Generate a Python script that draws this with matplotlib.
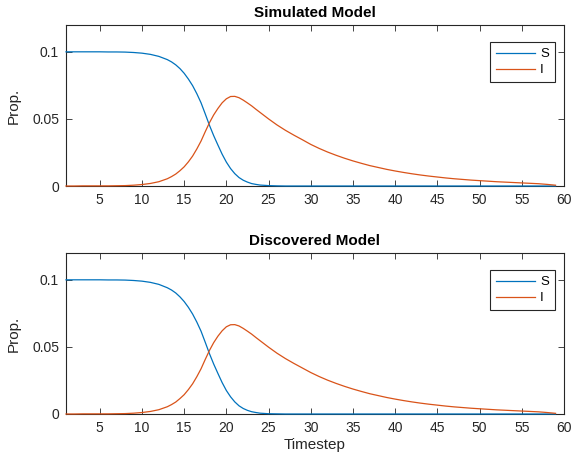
import matplotlib
matplotlib.use("Agg")
import matplotlib.pyplot as plt

timesteps = [1, 2, 3, 4, 5, 6, 7, 8, 9, 10, 11, 12, 13, 13.5, 14, 14.5, 15, 15.5, 16, 16.5,
             17, 17.5, 18, 18.5, 19, 19.5, 20, 20.5, 21, 21.5, 22, 22.5, 23, 23.5, 24,
             25, 26, 27, 28, 29, 30, 31, 32, 33, 34, 35, 36, 37, 38, 39, 40, 41, 42, 43,
             44, 45, 46, 47, 48, 49, 50, 51, 52, 53, 54, 55, 56, 57, 58, 59]

sim_S = [0.1000, 0.1000, 0.1000, 0.1000, 0.1000, 0.0999, 0.0999, 0.0998, 0.0995, 0.0990,
         0.0981, 0.0966, 0.0942, 0.0925, 0.0903, 0.0875, 0.0840, 0.0797, 0.0748, 0.0688,
         0.0620, 0.0537, 0.0452, 0.0375, 0.0305, 0.0237, 0.0178, 0.0130, 0.0092, 0.0063,
         0.0043, 0.0029, 0.0018, 0.0012, 0.0007,
         0.0003, 0.0001, 0.0000, 0.0000, 0.0000, 0.0000, 0.0000, 0.0000, 0.0000, 0.0000,
         0.0000, 0.0000, 0.0000, 0.0000, 0.0000, 0.0000, 0.0000, 0.0000, 0.0000, 0.0000,
         0.0000, 0.0000, 0.0000, 0.0000, 0.0000, 0.0000, 0.0000, 0.0000, 0.0000, 0.0000,
         0.0000, 0.0000, 0.0000, 0.0000, 0.0000]
sim_I = [0.0000, 0.0000, 0.0001, 0.0001, 0.0001, 0.0001, 0.0002, 0.0003, 0.0006, 0.0011,
         0.0019, 0.0032, 0.0054, 0.0070, 0.0089, 0.0114, 0.0143, 0.0180, 0.0223, 0.0276,
         0.0335, 0.0405, 0.0472, 0.0530, 0.0578, 0.0620, 0.0650, 0.0667, 0.0668, 0.0658,
         0.0640, 0.0619, 0.0597, 0.0572, 0.0548,
         0.0500, 0.0455, 0.0415, 0.0379, 0.0345, 0.0310, 0.0280, 0.0253, 0.0229, 0.0207,
         0.0187, 0.0169, 0.0152, 0.0138, 0.0124, 0.0112, 0.0101, 0.0091, 0.0082, 0.0074,
         0.0067, 0.0060, 0.0054, 0.0049, 0.0044, 0.0040, 0.0036, 0.0032, 0.0029, 0.0026,
         0.0023, 0.0020, 0.0017, 0.0012, 0.0006]

disc_S = [0.1000, 0.1000, 0.1000, 0.1000, 0.1000, 0.0999, 0.0999, 0.0998, 0.0995, 0.0990,
          0.0981, 0.0966, 0.0941, 0.0924, 0.0902, 0.0873, 0.0838, 0.0795, 0.0745, 0.0685,
          0.0617, 0.0534, 0.0449, 0.0372, 0.0302, 0.0234, 0.0175, 0.0128, 0.0090, 0.0061,
          0.0041, 0.0027, 0.0017, 0.0011, 0.0006,
          0.0002, 0.0001, 0.0000, 0.0000, 0.0000, 0.0000, 0.0000, 0.0000, 0.0000, 0.0000,
          0.0000, 0.0000, 0.0000, 0.0000, 0.0000, 0.0000, 0.0000, 0.0000, 0.0000, 0.0000,
          0.0000, 0.0000, 0.0000, 0.0000, 0.0000, 0.0000, 0.0000, 0.0000, 0.0000, 0.0000,
          0.0000, 0.0000, 0.0000, 0.0000, 0.0000]
disc_I = [0.0000, 0.0000, 0.0001, 0.0001, 0.0001, 0.0001, 0.0002, 0.0003, 0.0006, 0.0011,
          0.0019, 0.0032, 0.0054, 0.0070, 0.0089, 0.0115, 0.0144, 0.0182, 0.0225, 0.0278,
          0.0337, 0.0407, 0.0474, 0.0532, 0.0580, 0.0620, 0.0650, 0.0665, 0.0666, 0.0656,
          0.0638, 0.0617, 0.0595, 0.0570, 0.0546,
          0.0498, 0.0453, 0.0413, 0.0377, 0.0343, 0.0309, 0.0279, 0.0252, 0.0228, 0.0206,
          0.0186, 0.0168, 0.0151, 0.0137, 0.0123, 0.0111, 0.0100, 0.0090, 0.0081, 0.0073,
          0.0066, 0.0059, 0.0053, 0.0048, 0.0043, 0.0039, 0.0035, 0.0031, 0.0028, 0.0025,
          0.0022, 0.0019, 0.0016, 0.0011, 0.0005]

titles = ["Simulated Model", "Discovered Model"]
series_labels = ["S", "I"]
xticks = [5, 10, 15, 20, 25, 30, 35, 40, 45, 50, 55, 60]
yticks = [0, 0.05, 0.1]
ytick_labels = ["0", "0.05", "0.1"]

plt.rcParams['font.family'] = ['Liberation Sans', 'DejaVu Sans']

BLUE = '#0072BD'
ORANGE = '#D95319'
AX = '#262626'

fig = plt.figure(figsize=(5.73, 4.67), dpi=100)
fig.patch.set_facecolor('white')
ax1 = fig.add_axes([0.1152, 0.6017, 0.869, 0.3448])
ax2 = fig.add_axes([0.1152, 0.1135, 0.869, 0.3448])

data = [(sim_S, sim_I), (disc_S, disc_I)]
for ax, title, (S, I) in zip([ax1, ax2], titles, data):
    ax.plot(timesteps, S, color=BLUE, lw=0.9, label=series_labels[0], clip_on=False, zorder=3)
    ax.plot(timesteps, I, color=ORANGE, lw=0.9, label=series_labels[1], clip_on=False, zorder=3)
    ax.set_xlim(1, 60)
    ax.set_ylim(0, 0.12)
    ax.set_xticks(xticks)
    ax.set_yticks(yticks)
    ax.set_yticklabels(ytick_labels)
    ax.tick_params(direction='in', length=4, width=0.6, top=True, right=True,
                   labelsize=10, colors=AX, pad=5)
    for sp in ax.spines.values():
        sp.set_color(AX)
        sp.set_linewidth(0.8)
    ax.set_title(title, fontsize=11, fontweight='bold', color='black', pad=6)
    ax.set_ylabel('Prop.', fontsize=11, color=AX, labelpad=8)
    leg = ax.legend(loc='upper right', fontsize=9.5, handlelength=3.0, handletextpad=0.35,
                    borderaxespad=0.5, bbox_to_anchor=(0.995, 0.935),
                    fancybox=False, edgecolor=AX, framealpha=1, borderpad=0.45,
                    labelspacing=0.3)
    leg.get_frame().set_linewidth(0.8)

ax2.set_xlabel('Timestep', fontsize=11, color=AX, labelpad=2)

fig.savefig('out.png', dpi=100)
